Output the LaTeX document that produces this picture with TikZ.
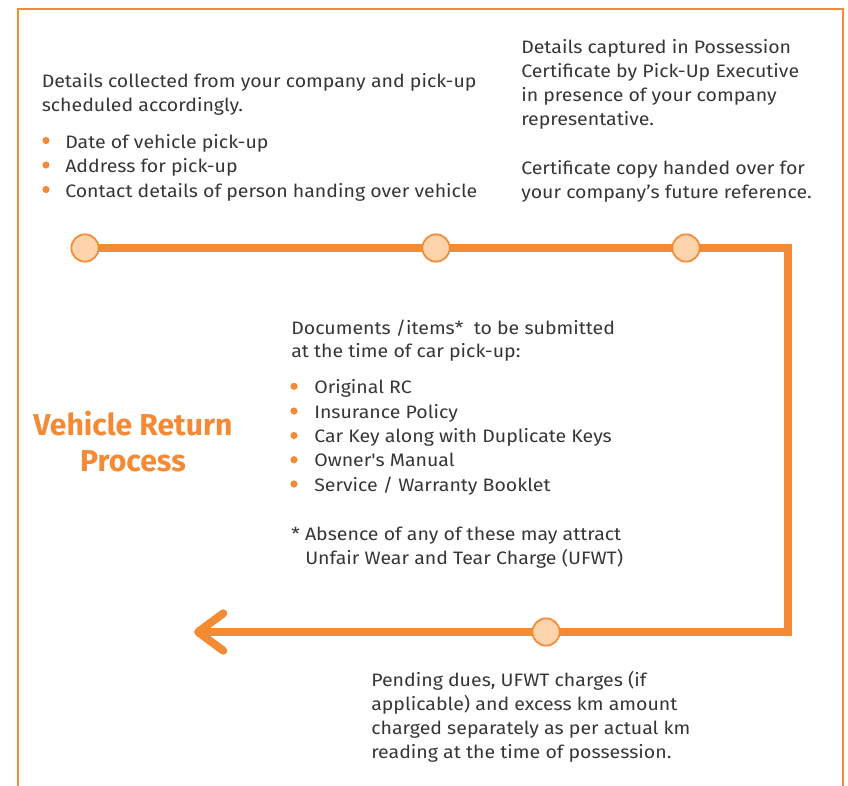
\documentclass[tikz,border=0pt]{standalone}
\usepackage{fontspec}
\setmainfont{Fira Sans}[Ligatures=TeXOff, FakeStretch=1.085]
\newfontfamily\titlefont{Fira Sans}[Ligatures=TeXOff]
\usetikzlibrary{arrows.meta,backgrounds}
\definecolor{orng}{HTML}{F58A35}
\definecolor{peach}{HTML}{FDD3AC}
\definecolor{txtgray}{HTML}{363636}
\tikzset{
  txt/.style={anchor=base west, inner sep=0pt, font=\fontsize{13.5}{18}\selectfont, text=txtgray},
  ttl/.style={anchor=base, inner sep=0pt, font=\titlefont\fontsize{22.6}{30}\selectfont\bfseries, text=orng},
  stopc/.style={circle, draw=orng, line width=1.3pt, fill=peach, minimum size=20.5pt, inner sep=0pt},
  dot/.style={circle, fill=orng, minimum size=5.4pt, inner sep=0pt},
  flow/.style={draw=orng, line width=6pt},
  frame/.style={draw=orng, line width=1.6pt}
}
\begin{document}
\begin{tikzpicture}[x=0.75pt, y=-0.75pt]
\useasboundingbox (0,0) rectangle (848,785);
% frame
\coordinate (fbl) at (18,790);
\coordinate (ftl) at (18,9);
\coordinate (ftr) at (843,9);
\coordinate (fbr) at (843,790);
\draw[frame] (fbl) -- (ftl) -- (ftr) -- (fbr);
% stops
\node[stopc] (c1) at (85,248) {};
\node[stopc] (c2) at (436,248) {};
\node[stopc] (c3) at (686,248) {};
\node[stopc] (c4) at (546,632) {};
\coordinate (cr1) at (788,248);
\coordinate (cr2) at (788,632);
\coordinate (end) at (194,632);
\begin{pgfonlayer}{background}
\draw[flow, -{Straight Barb[round, length=19pt, width=28pt]}] (c1.center) -- (cr1) -- (cr2) -- (end);
\end{pgfonlayer}
% title
\node[ttl] (t1) at (133,435.7) {Vehicle Return};
\node[ttl] (t2) at (133,471.7) {Process};
% top left block
\node[txt] (a1) at (41.5,87.3) {Details collected from your company and pick-up};
\node[txt] (a2) at (41.5,111.7) {scheduled accordingly.};
\node[txt] (a3) at (65,148) {Date of vehicle pick-up};
\node[txt] (a4) at (65,172.5) {Address for pick-up};
\node[txt] (a5) at (65,197) {Contact details of person handing over vehicle};
\node[dot] (ad3) at (46,140.5) {};
\node[dot] (ad4) at (46,165) {};
\node[dot] (ad5) at (46,189.5) {};
% top right block
\node[txt] (b1) at (521,53.3) {Details captured in Possession};
\node[txt] (b2) at (521,77.7) {Certificate by Pick-Up Executive};
\node[txt] (b3) at (521,101.7) {in presence of your company};
\node[txt] (b4) at (521,125.7) {representative.};
\node[txt] (b5) at (521,174.3) {Certificate copy handed over for};
\node[txt] (b6) at (521,198.3) {your company’s future reference.};
% middle block
\node[txt] (m1) at (291,334) {Documents /items*\ \ to be submitted};
\node[txt] (m2) at (291,357.5) {at the time of car pick-up:};
\node[txt] (m3) at (314,393.3) {Original RC};
\node[txt] (m4) at (314,418) {Insurance Policy};
\node[txt] (m5) at (314,442.5) {Car Key along with Duplicate Keys};
\node[txt] (m6) at (314,466.7) {Owner's Manual};
\node[txt] (m7) at (314,491) {Service / Warranty Booklet};
\node[dot] (md3) at (294,386.3) {};
\node[dot] (md4) at (294,411) {};
\node[dot] (md5) at (294,435.5) {};
\node[dot] (md6) at (294,459.7) {};
\node[dot] (md7) at (294,484) {};
\node[txt] (m8) at (291,540) {* Absence of any of these may attract};
\node[txt] (m9) at (305,564) {Unfair Wear and Tear Charge (UFWT)};
% bottom block
\node[txt] (d1) at (371,686.7) {Pending dues, UFWT charges (if};
\node[txt] (d2) at (371,710.7) {applicable) and excess km amount};
\node[txt] (d3) at (371,734.5) {charged separately as per actual km};
\node[txt] (d4) at (371,758.5) {reading at the time of possession.};
\end{tikzpicture}
\end{document}
